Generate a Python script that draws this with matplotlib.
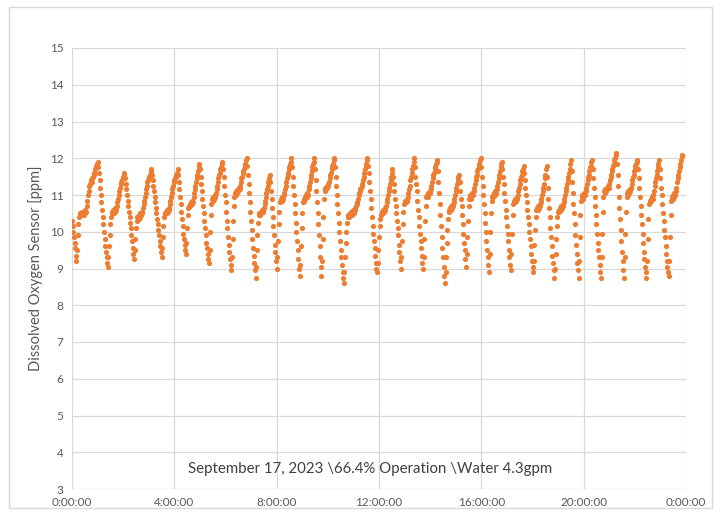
import matplotlib
matplotlib.use("Agg")
import matplotlib.pyplot as plt
from matplotlib.patches import Rectangle
import numpy as np

# Dissolved oxygen readings [ppm], logged every 1.5 minutes.
# Split into segments from one peak to the next so they are easier to read off the chart.
sample_min = 1.5

seg00 = [10.3, 10.15, 10.0, 9.85, 9.7, 9.55, 9.35, 9.2,
         9.5, 9.9, 10.2, 10.4, 10.45,
         10.5, 10.45, 10.5, 10.55, 10.5, 10.45, 10.55, 10.5, 10.6, 10.55,
         10.7, 10.85, 11.0, 11.1, 11.25, 11.3, 11.35, 11.4, 11.35, 11.45, 11.5, 11.55, 11.6, 11.7, 11.75, 11.8, 11.85, 11.9]
seg01 = [11.75, 11.6, 11.4, 11.2, 11.0, 10.8, 10.6, 10.4, 10.2, 10.0, 9.8, 9.6, 9.45, 9.3, 9.15, 9.05,
         9.3, 9.6, 9.9, 10.2, 10.4, 10.5,
         10.55, 10.6, 10.5, 10.6, 10.55, 10.65, 10.6, 10.7,
         10.8, 10.9, 11.0, 11.1, 11.2, 11.3, 11.35, 11.4, 11.45, 11.5, 11.55, 11.6]
seg02 = [11.45, 11.3, 11.15, 11.0, 10.85, 10.7, 10.55, 10.4, 10.25, 10.1, 9.9, 9.75, 9.55, 9.4, 9.25,
         9.5, 9.8, 10.1, 10.3, 10.4,
         10.4, 10.35, 10.45, 10.4, 10.5, 10.45, 10.5, 10.55,
         10.65, 10.75, 10.85, 10.95, 11.05, 11.15, 11.25, 11.35, 11.4, 11.45, 11.5, 11.55, 11.65, 11.7]
seg03 = [11.55, 11.4, 11.25, 11.1, 10.95, 10.8, 10.65, 10.5, 10.35, 10.2, 10.05, 9.9, 9.75, 9.6, 9.45, 9.3,
         9.55, 9.85, 10.15, 10.4, 10.5,
         10.5, 10.55, 10.5, 10.6, 10.55, 10.6, 10.65,
         10.75, 10.85, 10.95, 11.05, 11.15, 11.25, 11.35, 11.4, 11.45, 11.5, 11.55, 11.6, 11.7]
seg04 = [11.55, 11.35, 11.15, 10.95, 10.75, 10.55, 10.35, 10.15, 9.95, 9.8, 9.65, 9.5, 9.4,
         9.7, 10.1, 10.45, 10.65,
         10.7, 10.75, 10.7, 10.8, 10.75, 10.85, 10.8,
         10.95, 11.05, 11.15, 11.25, 11.35, 11.45, 11.55, 11.65, 11.75, 11.85]
seg05 = [11.7, 11.5, 11.3, 11.1, 10.9, 10.7, 10.5, 10.3, 10.1, 9.9, 9.7, 9.55, 9.4, 9.25, 9.15,
         9.5, 10.0, 10.45, 10.75,
         10.9, 10.85, 10.95, 10.9, 11.0, 10.95, 11.05,
         11.15, 11.25, 11.35, 11.45, 11.55, 11.6, 11.7, 11.75, 11.85, 11.9]
seg06 = [11.7, 11.5, 11.25, 11.0, 10.8, 10.55, 10.3, 10.1, 9.85, 9.65, 9.45, 9.25, 9.1, 8.95,
         9.3, 9.8, 10.3, 10.7, 10.95,
         11.05, 11.0, 11.1, 11.05, 11.15, 11.1, 11.2, 11.15,
         11.25, 11.35, 11.45, 11.5, 11.6, 11.65, 11.7, 11.8, 11.85, 11.95, 12.0]
seg07 = [11.8, 11.55, 11.3, 11.05, 10.8, 10.55, 10.3, 10.05, 9.8, 9.55, 9.35, 9.15, 8.95, 8.75,
         9.05, 9.5, 9.9, 10.25, 10.45,
         10.5, 10.45, 10.55, 10.5, 10.6, 10.55, 10.6, 10.65,
         10.75, 10.85, 10.95, 11.05, 11.15, 11.25, 11.35, 11.45, 11.55]
seg08 = [11.35, 11.1, 10.9, 10.65, 10.4, 10.15, 9.9, 9.65, 9.45, 9.2, 9.0,
         9.3, 9.75, 10.2, 10.55, 10.8,
         10.85, 10.9, 10.85, 10.95, 10.9, 11.0, 11.05,
         11.15, 11.25, 11.35, 11.45, 11.55, 11.6, 11.7, 11.75, 11.85, 11.9, 12.0]
seg09 = [11.75, 11.5, 11.25, 11.0, 10.75, 10.5, 10.25, 10.0, 9.75, 9.5, 9.25, 9.0, 8.8,
         9.1, 9.6, 10.1, 10.5, 10.8,
         10.9, 10.85, 10.95, 10.9, 11.0, 10.95, 11.05, 11.0,
         11.15, 11.25, 11.35, 11.45, 11.55, 11.65, 11.75, 11.85, 11.9, 12.0]
seg10 = [11.7, 11.4, 11.1, 10.8, 10.5, 10.2, 9.9, 9.6, 9.3, 9.05, 8.8,
         9.2, 9.8, 10.4, 10.9, 11.1,
         11.2, 11.15, 11.25, 11.2, 11.3, 11.25,
         11.35, 11.45, 11.55, 11.6, 11.7, 11.8, 11.85, 11.95, 12.0]
seg11 = [11.75, 11.5, 11.25, 11.0, 10.75, 10.5, 10.25, 10.0, 9.75, 9.5, 9.3, 9.1, 8.9, 8.75, 8.6,
         8.9, 9.3, 9.7, 10.0, 10.25, 10.4,
         10.45, 10.4, 10.5, 10.45, 10.55, 10.5, 10.45, 10.55, 10.6, 10.5, 10.6, 10.65,
         10.7, 10.75, 10.8, 10.9, 11.0, 11.05, 11.1, 11.15, 11.2, 11.25, 11.3, 11.4, 11.5, 11.6, 11.7, 11.8, 11.85, 11.95, 12.0]
seg12 = [11.8, 11.6, 11.35, 11.1, 10.9, 10.65, 10.4, 10.15, 9.95, 9.75, 9.55, 9.35, 9.15, 9.0, 8.9,
         9.15, 9.5, 9.85, 10.15, 10.35, 10.45,
         10.5, 10.55, 10.5, 10.6, 10.55, 10.65, 10.6, 10.7,
         10.8, 10.9, 11.0, 11.1, 11.2, 11.3, 11.4, 11.5, 11.6, 11.7]
seg13 = [11.5, 11.3, 11.1, 10.9, 10.7, 10.5, 10.3, 10.1, 9.9, 9.65, 9.45, 9.2, 9.0,
         9.3, 9.75, 10.2, 10.55, 10.75,
         10.8, 10.85, 10.8, 10.9, 10.85, 10.95,
         11.05, 11.15, 11.25, 11.4, 11.5, 11.6, 11.7, 11.8, 11.9, 12.0]
seg14 = [11.75, 11.5, 11.3, 11.1, 10.85, 10.6, 10.4, 10.15, 9.95, 9.75, 9.55, 9.35, 9.15, 9.0,
         9.3, 9.8, 10.3, 10.7, 10.95,
         11.0, 11.05, 10.95, 11.05, 11.1, 11.05, 11.15,
         11.25, 11.35, 11.45, 11.55, 11.6, 11.7, 11.75, 11.85, 11.9, 11.95]
seg15 = [11.65, 11.35, 11.05, 10.75, 10.45, 10.15, 9.85, 9.55, 9.3, 9.05, 8.8, 8.6,
         8.9, 9.3, 9.7, 10.05, 10.35, 10.55,
         10.6, 10.65, 10.6, 10.7, 10.65, 10.75, 10.7,
         10.8, 10.9, 11.0, 11.1, 11.2, 11.3, 11.4, 11.5, 11.55]
seg16 = [11.35, 11.1, 10.9, 10.7, 10.45, 10.2, 9.95, 9.7, 9.5, 9.25, 9.05,
         9.4, 9.85, 10.3, 10.7, 10.9,
         10.95, 11.0, 10.9, 11.0, 11.05, 11.0, 11.1,
         11.2, 11.3, 11.4, 11.5, 11.55, 11.65, 11.7, 11.8, 11.85, 11.95, 12.0]
seg17 = [11.75, 11.5, 11.25, 11.0, 10.75, 10.5, 10.25, 10.0, 9.75, 9.5, 9.3, 9.1, 8.9,
         9.4, 10.0, 10.5, 10.85,
         10.95, 11.0, 10.95, 11.05, 11.0, 11.1, 11.05,
         11.15, 11.25, 11.35, 11.45, 11.55, 11.65, 11.75, 11.85, 11.9]
seg18 = [11.7, 11.5, 11.3, 11.05, 10.85, 10.6, 10.4, 10.15, 9.95, 9.75, 9.5, 9.3, 9.1, 8.95,
         9.4, 9.95, 10.45, 10.75,
         10.85, 10.8, 10.9, 10.85, 10.95, 10.9, 11.0,
         11.1, 11.2, 11.3, 11.4, 11.5, 11.55, 11.65, 11.7, 11.8]
seg19 = [11.6, 11.4, 11.2, 11.0, 10.8, 10.6, 10.4, 10.2, 10.0, 9.8, 9.6, 9.4, 9.2, 9.05, 8.9,
         9.2, 9.65, 10.05, 10.4, 10.6,
         10.65, 10.6, 10.7, 10.65, 10.75, 10.7, 10.8,
         10.9, 11.0, 11.1, 11.2, 11.3, 11.45, 11.55, 11.7, 11.8]
seg20 = [11.5, 11.2, 10.9, 10.65, 10.4, 10.1, 9.85, 9.6, 9.35, 9.15, 8.95, 8.75,
         9.0, 9.4, 9.8, 10.15, 10.4, 10.55,
         10.6, 10.55, 10.65, 10.6, 10.7, 10.65, 10.75, 10.7, 10.8,
         10.9, 11.0, 11.1, 11.2, 11.3, 11.4, 11.5, 11.6, 11.7, 11.85, 11.95]
seg21 = [11.65, 11.35, 11.05, 10.75, 10.5, 10.2, 9.9, 9.65, 9.4, 9.15, 8.95, 8.75,
         9.2, 9.85, 10.45, 10.85,
         10.95, 11.0, 10.9, 11.0, 11.05, 11.0, 11.1,
         11.2, 11.3, 11.4, 11.5, 11.55, 11.65, 11.75, 11.8, 11.9, 11.95]
seg22 = [11.7, 11.45, 11.2, 10.95, 10.7, 10.45, 10.2, 9.95, 9.7, 9.5, 9.3, 9.1, 8.9, 8.75,
         9.3, 9.95, 10.55, 10.95,
         11.1, 11.05, 11.15, 11.1, 11.2, 11.15, 11.25, 11.2,
         11.3, 11.4, 11.5, 11.55, 11.65, 11.7, 11.8, 11.85, 11.95, 12.0, 12.1, 12.15]
seg23 = [11.85, 11.55, 11.25, 10.95, 10.65, 10.35, 10.05, 9.75, 9.45, 9.2, 8.95, 8.75,
         9.3, 9.95, 10.55, 10.95,
         11.05, 11.0, 11.1, 11.05, 11.15, 11.1, 11.2,
         11.3, 11.4, 11.5, 11.55, 11.65, 11.7, 11.8, 11.85, 11.9, 11.95]
seg24 = [11.7, 11.45, 11.2, 10.95, 10.7, 10.45, 10.2, 9.95, 9.7, 9.45, 9.25, 9.05, 8.9, 8.75,
         9.2, 9.8, 10.35, 10.75,
         10.85, 10.8, 10.9, 10.85, 10.95, 10.9, 11.0,
         11.1, 11.25, 11.35, 11.45, 11.55, 11.65, 11.75, 11.85, 11.95]
seg25 = [11.7, 11.45, 11.2, 11.0, 10.75, 10.5, 10.3, 10.05, 9.85, 9.6, 9.4, 9.2, 9.05, 8.9, 8.8,
         9.2, 9.85, 10.45, 10.85,
         10.95, 10.9, 11.0, 10.95, 11.05, 11.0, 11.1,
         11.2, 11.35, 11.45, 11.55, 11.65, 11.75, 11.85, 11.95, 12.05, 12.1]

segments = [seg00, seg01, seg02, seg03, seg04, seg05, seg06, seg07, seg08, seg09,
            seg10, seg11, seg12, seg13, seg14, seg15, seg16, seg17, seg18, seg19,
            seg20, seg21, seg22, seg23, seg24, seg25]
do_ppm = np.concatenate(segments)
hours = np.arange(len(do_ppm)) * sample_min / 60.0

tick_hours = [0, 4, 8, 12, 16, 20, 24]
tick_labels = ["0:00:00", "4:00:00", "8:00:00", "12:00:00", "16:00:00", "20:00:00", "0:00:00"]
y_ticks = list(range(3, 16))

note = "September 17, 2023 \\66.4% Operation \\Water 4.3gpm"

plt.rcParams['font.family'] = ['Lato', 'DejaVu Sans']

fig = plt.figure(figsize=(7.2, 5.15), dpi=100)
ax = fig.add_axes([72 / 720, 1 - 489 / 515, 614 / 720, 441 / 515])

# chart area border like the Excel frame
fig.patches.append(Rectangle((9 / 720, 7 / 515), 703 / 720, 501 / 515, transform=fig.transFigure,
                             fill=False, edgecolor='#d9d9d9', linewidth=1.0))

ax.scatter(hours, do_ppm, s=14, color='#ED7D31', linewidths=0, zorder=3)

ax.set_xlim(0, 24)
ax.set_ylim(3, 15)
ax.set_xticks(tick_hours)
ax.set_xticklabels(tick_labels)
ax.set_yticks(y_ticks)
ax.grid(True, color='#d9d9d9', linewidth=0.9)
ax.set_axisbelow(True)
for s in ax.spines.values():
    s.set_visible(False)
ax.tick_params(length=0, labelsize=8.5, labelcolor='#595959', pad=6)

ax.set_ylabel("Dissolved Oxygen Sensor [ppm]", fontsize=10.5, color='#595959')
ax.yaxis.set_label_coords(-0.048, 0.5)

ax.text(0.485, 0.045, note, transform=ax.transAxes, ha='center', va='center',
        fontsize=10.8, color='#404040')

fig.savefig("out.png", dpi=100)
